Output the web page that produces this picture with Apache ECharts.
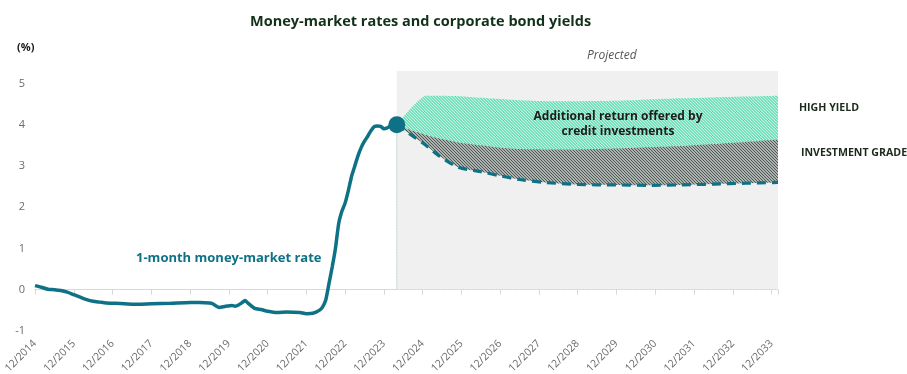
<!DOCTYPE html>
<html><head><meta charset="utf-8">
<script src="https://cdn.jsdelivr.net/npm/echarts@6/dist/echarts.min.js"></script>
<style>html,body{margin:0;padding:0;background:#fff}#c{width:907px;height:374px}</style>
</head><body><div id="c"></div>
<script>
// months since 12/2014
const histMonths = [0,2,4,6,8,10,12,14,16,18,20,22,25,30,36,42,48,51,54,55,57,59,61,62,63,64,65,66,68,70,72,75,78,82,84,86,88,89,90,91,92,93,94,95,96,97,98,99,100,101,102,103,104,105,106,107,108,109,110,111,112];
const histRate   = [0.10,0.06,0.01,0.00,-0.02,-0.06,-0.12,-0.18,-0.24,-0.28,-0.30,-0.32,-0.33,-0.35,-0.34,-0.33,-0.31,-0.31,-0.32,-0.34,-0.43,-0.40,-0.38,-0.40,-0.37,-0.32,-0.26,-0.33,-0.45,-0.48,-0.52,-0.55,-0.54,-0.55,-0.58,-0.57,-0.50,-0.42,-0.25,0.15,0.55,1.0,1.6,1.9,2.1,2.4,2.75,3.0,3.25,3.45,3.6,3.72,3.85,3.95,3.97,3.96,3.90,3.92,3.97,4.0,4.0];
const projMonths = [112,117,121,125,131,138,144,150,158,168,180,190,200,210,220,230];
const projRate   = [4.0,3.72,3.5,3.25,2.97,2.86,2.76,2.67,2.6,2.55,2.54,2.53,2.54,2.56,2.58,2.6];
const invGrade   = [4.0,3.85,3.75,3.67,3.57,3.5,3.44,3.41,3.40,3.40,3.42,3.45,3.48,3.53,3.58,3.64];
const highYield  = [4.0,4.45,4.70,4.70,4.69,4.65,4.62,4.59,4.57,4.57,4.58,4.61,4.64,4.66,4.68,4.70];
const yTicks = [-1,0,1,2,3,4,5];
const firstYear = 2014;

function hatch(bg, fg, size, lw) {
  const c = document.createElement('canvas'); c.width = c.height = size;
  const g = c.getContext('2d');
  g.fillStyle = bg; g.fillRect(0,0,size,size);
  g.strokeStyle = fg; g.lineWidth = lw; g.beginPath();
  g.moveTo(-1,-1); g.lineTo(size+1,size+1);
  g.moveTo(-1,size-1); g.lineTo(1,size+1);
  g.moveTo(size-1,-1); g.lineTo(size+1,1);
  g.stroke(); return c;
}
const greenHatch = hatch('#76e0bc','#c6f4e4',3,1);
const greyHatch = hatch('#d3dad6','#4a524f',3,1.1);

const hist = histMonths.map((m,i)=>[m,histRate[i]]);
const proj = projMonths.map((m,i)=>[m,projRate[i]]);
const ig = projMonths.map((m,i)=>[m,invGrade[i]]);
const hy = projMonths.map((m,i)=>[m,highYield[i]]);
const last = hist[hist.length-1];
const TEAL = '#0e7186';
const BOXGREY = '#f0f0f0';
const FONT = '"Open Sans", sans-serif';

const chart = echarts.init(document.getElementById('c'), null, {renderer:'canvas'});
const xCommon = {type:'value', min:0, max:230, interval:12, splitLine:{show:false}};
chart.setOption({
  animation:false,
  textStyle:{fontFamily:FONT},
  title:{text:'Money-market rates and corporate bond yields', left:245, top:9,
    textStyle:{fontFamily:FONT, fontSize:14.5, fontWeight:'bold', color:'#12301a'}},
  grid:{left:35, right:129, top:71, bottom:43, outerBoundsMode:'none', containLabel:false},
  xAxis:[
    Object.assign({}, xCommon, {position:'bottom', axisLine:{show:false, onZero:false}, axisTick:{show:false},
      axisLabel:{rotate:45, margin:11, color:'#6b6b6b', fontSize:10.5, fontFamily:FONT,
        formatter:v=> v%12===0 ? '12/'+(firstYear+v/12) : ''}}),
    Object.assign({}, xCommon, {position:'bottom', axisLine:{show:true, onZero:true, lineStyle:{color:'#d8d8d8', width:1}},
      axisTick:{show:true, length:5, lineStyle:{color:'#d8d8d8'}}, axisLabel:{show:false}})
  ],
  yAxis:{type:'value', min:yTicks[0], max:5.3, interval:1, splitLine:{show:false}, axisLine:{show:false}, axisTick:{show:false},
    axisLabel:{color:'#6b6b6b', fontSize:11, margin:10, fontFamily:FONT, formatter:v=> Number.isInteger(v) && yTicks.includes(v) ? String(v) : ''}},
  series:[
    {type:'line', name:'bg', data:[], z:1, markArea:{silent:true, itemStyle:{color:BOXGREY},
      data:[[{xAxis:112, yAxis:0},{xAxis:230, yAxis:5.3}]]},
      markLine:{silent:true, symbol:'none', label:{show:false}, lineStyle:{color:'#c5eedd', type:'dotted', width:1},
      data:[[{xAxis:112, yAxis:0},{xAxis:112, yAxis:4.0}]]}},
    {type:'line', data:hy, showSymbol:false, smooth:0.2, lineStyle:{width:0, opacity:0}, areaStyle:{color:{image:greenHatch, repeat:'repeat'}, opacity:1}, z:2},
    {type:'line', data:ig, showSymbol:false, smooth:0.2, lineStyle:{width:0, opacity:0}, areaStyle:{color:{image:greyHatch, repeat:'repeat'}, opacity:1}, z:3},
    {type:'line', data:proj, showSymbol:false, smooth:0.3, lineStyle:{width:0, opacity:0}, areaStyle:{color:BOXGREY, opacity:1}, z:4},
    {type:'line', data:proj, showSymbol:false, smooth:0.3, lineStyle:{color:TEAL, width:3.2, type:[9,6]}, z:5},
    {type:'line', data:hist, showSymbol:false, smooth:0.2, lineStyle:{color:TEAL, width:3.5}, z:6},
    {type:'scatter', data:[last], symbolSize:17, itemStyle:{color:TEAL, opacity:1}, z:7}
  ],
  graphic:[
    {type:'text', left:17, top:42, style:{text:'(%)', font:'bold 11px '+FONT, fill:'#1a1a1a'}},
    {type:'text', left:587, top:50, style:{text:'Projected', font:'italic 12px '+FONT, fill:'#555'}},
    {type:'text', x:618, y:109, z:10, style:{text:'Additional return offered by\ncredit investments', font:'bold 12px '+FONT, fill:'#1c1c1c', align:'center', verticalAlign:'top', lineHeight:15}},
    {type:'text', left:136, top:252, style:{text:'1-month money-market rate', font:'bold 13px '+FONT, fill:TEAL}},
    {type:'text', left:799, top:102, style:{text:'HIGH YIELD', font:'bold 10.6px '+FONT, fill:'#1c2a1c'}},
    {type:'text', left:801, top:147, style:{text:'INVESTMENT GRADE', font:'bold 10.6px '+FONT, fill:'#1c2a1c'}}
  ]
});
</script></body></html>
